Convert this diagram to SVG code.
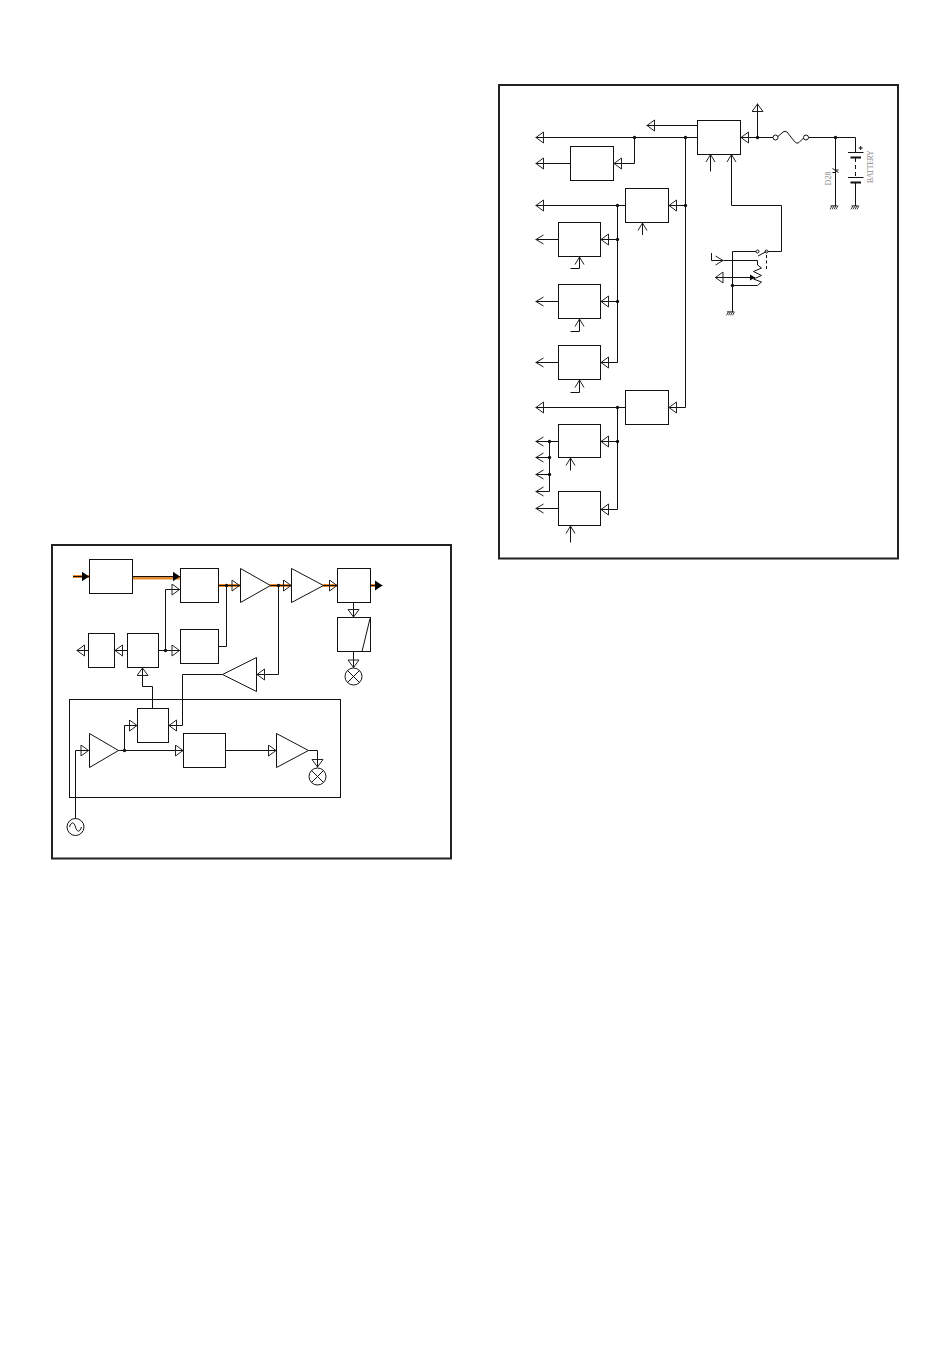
<svg xmlns="http://www.w3.org/2000/svg" width="950" height="1360" viewBox="0 0 950 1360">
<style>
.f{fill:none;stroke:#222;stroke-width:2}
.n{fill:#fff;stroke:#111;stroke-width:1}
.w{fill:none;stroke:#111;stroke-width:1}
.o{fill:none;stroke:#e8892b;stroke-width:3}
.t{marker-end:url(#tri)}
.v{marker-end:url(#vee)}
.b{marker-end:url(#sol)}
.s{marker-end:url(#sml)}
.d{fill:#111;stroke:none}
.h{fill:none;stroke:#111;stroke-width:2}
.l{font-family:"Liberation Serif",serif;font-size:8px;fill:#8a8a8a;text-anchor:middle}
</style>
<defs>
<marker id="tri" markerUnits="userSpaceOnUse" markerWidth="11" markerHeight="13" refX="9" refY="6" orient="auto"><path d="M1,0.5 L8.500,6 L1,11.500 Z" fill="none" stroke="#222" stroke-width="1"/></marker>
<marker id="vee" markerUnits="userSpaceOnUse" markerWidth="10" markerHeight="12" refX="8.500" refY="5.500" orient="auto"><path d="M0.500,1 L8,5.500 L0.500,10" fill="none" stroke="#222" stroke-width="1"/></marker>
<marker id="sol" markerUnits="userSpaceOnUse" markerWidth="9" markerHeight="12" refX="7.500" refY="5.500" orient="auto"><path d="M0,0.500 L7.500,5.500 L0,10.500 Z" fill="#000"/></marker>
<marker id="sml" markerUnits="userSpaceOnUse" markerWidth="7" markerHeight="8" refX="5" refY="3.500" orient="auto"><path d="M0,0.500 L5,3.500 L0,6.500 Z" fill="#000"/></marker>
<g id="gnd"><path d="M-3.500,0 H3.500 M-4,3.500 L-2,0 M-2,3.500 L0,0 M0,3.500 L2,0 M2,3.500 L4,0" fill="none" stroke="#222" stroke-width="0.9"/></g>
</defs>
<rect id="frame-left" class="f" x="52" y="545" width="399" height="313.500"/>
<rect id="frame-right" class="f" x="499" y="85" width="399" height="473.500"/>
<rect id="frame-inner" class="w" x="69.500" y="699.500" width="271" height="98"/>

<g id="connectors">
<path class="o" d="M73,576.500 H89"/>
<path class="o" d="M133,578 H180"/>
<path class="o" d="M219,585.500 H240"/>
<path class="o" d="M270,585.500 H291"/>
<path class="o" d="M323,585.500 H337"/>
<path class="o" d="M370,585.500 H381"/>
<path class="w b" d="M73,576.500 H89"/>
<path class="w b" d="M133,576.500 H180"/>
<path class="w t" d="M218.500,585.500 H240"/>
<path class="w t" d="M270,585.500 H291.500"/>
<path class="w t" d="M323,585.500 H337.500"/>
<path class="w b" d="M370.500,585.500 H382.500"/>
<path class="w t" d="M158.500,650.500 H180"/>
<path class="w t" d="M165.500,650.500 V589.500 H180"/>
<path class="w" d="M218.500,646.500 H226.500 V585.500"/>
<path class="w t" d="M127.500,650.500 H114.500"/>
<path class="w t" d="M88.500,650.500 H76.500"/>
<path class="w t" d="M152.500,708.500 V686.500 H142.500 V667.500"/>
<path class="w t" d="M278.500,585.500 V674.500 H256.500"/>
<path class="w t" d="M222.500,674.500 H182.500 V725.500 H168.500"/>
<path class="w t" d="M75.500,818.500 V750.500 H89"/>
<path class="w t" d="M118,750.500 H183.500"/>
<path class="w t" d="M124.500,750.500 V725.500 H137.500"/>
<path class="w t" d="M225.500,750.500 H276.500"/>
<path class="w t" d="M308.500,750.500 H317.500 V767.500"/>
<path class="w t" d="M353.500,602.500 V617.500"/>
<path class="w t" d="M353.500,651.500 V668"/>

<path class="w t" d="M697.500,125.500 H646.500"/>
<path class="w t" d="M697.500,137.500 H535.500"/>
<path class="w t" d="M634.500,137.500 V163.500 H613.500"/>
<path class="w t" d="M570.500,163.500 H535.500"/>
<path class="w t" d="M685.500,137.500 V407.500 H668.500"/>
<path class="w t" d="M685.500,205.500 H668.500"/>
<path class="w t" d="M625.500,205.500 H535.500"/>
<path class="w t" d="M617.500,205.500 V362.500 H600.500"/>
<path class="w t" d="M617.500,239.500 H600.500"/>
<path class="w t" d="M617.500,301.500 H600.500"/>
<path class="w v" d="M558.500,239.500 H535.500"/>
<path class="w v" d="M558.500,301.500 H535.500"/>
<path class="w v" d="M558.500,362.500 H535.500"/>
<path class="w v" d="M570.500,268.500 H579.500 V256.500"/>
<path class="w v" d="M570.500,331.500 H579.500 V318.500"/>
<path class="w v" d="M570.500,392.500 H579.500 V379.500"/>
<path class="w v" d="M642.500,235 V222.500"/>
<path class="w v" d="M710.500,171.500 V154"/>
<path class="w v" d="M766.500,251.500 H781.500 V205.500 H731.500 V154"/>
<path class="w t" d="M625.500,407.500 H535.500"/>
<path class="w t" d="M617.500,407.500 V509.500 H600.500"/>
<path class="w t" d="M617.500,441.500 H600.500"/>
<path class="w v" d="M558.500,441.500 H535.500"/>
<path class="w v" d="M549.500,441.500 V491.500 H535.500"/>
<path class="w v" d="M549.500,457.500 H535.500"/>
<path class="w v" d="M549.500,474.500 H535.500"/>
<path class="w v" d="M558.500,508.500 H535.500"/>
<path class="w v" d="M570.500,470.500 V457.500"/>
<path class="w v" d="M570.500,542.500 V525.500"/>
<path class="w t" d="M773,137.500 H740.500"/>
<path class="w t" d="M757.500,137.500 V103.500"/>
<path class="w" d="M808.500,137.500 H855.500 V152"/>
<path class="w" d="M835.500,137.500 V206"/>
<path class="w" d="M855.500,183 V206"/>
<path class="w" d="M732.500,251.500 V312"/>
<path class="w" d="M732.500,251.500 H756"/>
<path class="w v" d="M711.500,253 V260.500 H723.500"/>
<path class="w" d="M723.500,260.500 H757.500 V265"/>
<path class="w t" d="M732,277.500 H715"/>
<path class="w s" d="M732,277.500 H755"/>
<path class="w" d="M757.500,285.500 H732.500"/>
<g id="junctions">
<circle class="d" cx="165.500" cy="650.500" r="1.700"/><circle class="d" cx="226.500" cy="585.500" r="1.700"/><circle class="d" cx="278.500" cy="585.500" r="1.700"/><circle class="d" cx="124.500" cy="750.500" r="1.700"/>
<circle class="d" cx="634.500" cy="137.500" r="1.700"/><circle class="d" cx="685.500" cy="137.500" r="1.700"/><circle class="d" cx="685.500" cy="205.500" r="1.700"/><circle class="d" cx="617.500" cy="205.500" r="1.700"/><circle class="d" cx="617.500" cy="239.500" r="1.700"/><circle class="d" cx="617.500" cy="301.500" r="1.700"/><circle class="d" cx="617.500" cy="407.500" r="1.700"/><circle class="d" cx="617.500" cy="441.500" r="1.700"/><circle class="d" cx="549.500" cy="441.500" r="1.700"/><circle class="d" cx="549.500" cy="457.500" r="1.700"/><circle class="d" cx="549.500" cy="474.500" r="1.700"/><circle class="d" cx="757.500" cy="137.500" r="1.700"/><circle class="d" cx="835.500" cy="137.500" r="1.700"/><circle class="d" cx="732.500" cy="285.500" r="1.700"/>
</g>
</g>

<g id="box-a"><rect class="n" x="89.500" y="559.500" width="43" height="34"/></g>
<g id="box-b"><rect class="n" x="180.500" y="568.500" width="38" height="34"/></g>
<g id="box-c"><rect class="n" x="180.500" y="629.500" width="38" height="34"/></g>
<g id="box-d"><rect class="n" x="127.500" y="633.500" width="31" height="34"/></g>
<g id="box-e"><rect class="n" x="88.500" y="633.500" width="26" height="34"/></g>
<g id="amp-1"><path class="n" d="M240.500,568.500 L270.500,585.500 L240.500,602.500 Z"/></g>
<g id="amp-2"><path class="n" d="M291.500,568.500 L323.500,585.500 L291.500,602.500 Z"/></g>
<g id="box-f"><rect class="n" x="337.500" y="568.500" width="33" height="34"/></g>
<g id="box-g"><rect class="n" x="337.500" y="617.500" width="33" height="34"/><path class="w" d="M370,618.500 L362,651.500"/></g>
<g id="mixer-1"><circle class="n" cx="353.500" cy="676.500" r="8.500"/><path class="w" d="M347.500,670.500 L359.500,682.500 M359.500,670.500 L347.500,682.500"/></g>
<g id="amp-3"><path class="n" d="M256.500,657.500 L222.500,674.500 L256.500,691.500 Z"/></g>
<g id="box-h"><rect class="n" x="137.500" y="708.500" width="31" height="34"/></g>
<g id="box-i"><rect class="n" x="183.500" y="733.500" width="42" height="34"/></g>
<g id="amp-4"><path class="n" d="M89.500,733.500 L118.500,750.500 L89.500,767.500 Z"/></g>
<g id="amp-5"><path class="n" d="M276.500,733.500 L308.500,750.500 L276.500,767.500 Z"/></g>
<g id="mixer-2"><circle class="n" cx="317.500" cy="776.500" r="8.500"/><path class="w" d="M311.500,770.500 L323.500,782.500 M323.500,770.500 L311.500,782.500"/></g>
<g id="source"><circle class="n" cx="75.500" cy="827" r="8.500"/><path class="w" d="M69.500,827 C71.500,821 74,822 75.500,827 C77,832 79.500,833 81.500,827"/></g>

<g id="box-m"><rect class="n" x="697.500" y="120.500" width="43" height="34"/></g>
<g id="box-n"><rect class="n" x="570.500" y="146.500" width="43" height="34"/></g>
<g id="box-o"><rect class="n" x="625.500" y="188.500" width="43" height="34"/></g>
<g id="box-p"><rect class="n" x="558.500" y="222.500" width="42" height="34"/></g>
<g id="box-q"><rect class="n" x="558.500" y="284.500" width="42" height="34"/></g>
<g id="box-r"><rect class="n" x="558.500" y="345.500" width="42" height="34"/></g>
<g id="box-s"><rect class="n" x="625.500" y="390.500" width="43" height="34"/></g>
<g id="box-t"><rect class="n" x="558.500" y="424.500" width="42" height="33"/></g>
<g id="box-u"><rect class="n" x="558.500" y="491.500" width="42" height="34"/></g>

<g id="fuse">
<circle class="n" cx="775.500" cy="137.500" r="2.500"/><circle class="n" cx="806" cy="137.500" r="2.500"/>
<path class="w" d="M778,136.500 L783,132 Q785,130.500 787,132 L794.500,141.500 Q797,144.500 799,142.500 L803.500,138"/>
</g>
<g id="d28">
<path class="w" d="M832.500,172.500 H835.500 L835.500,170 H838.500 M832.500,168.500 L838.500,172.500"/>
<text class="l" transform="translate(830.500,178.500) rotate(-90)" textLength="14">D28</text>
</g>
<g id="battery">
<path class="w" d="M848,152.500 H863.500 M848,177.500 H863.500"/>
<path class="h" d="M850.500,157.500 H861 M850.500,182.500 H861"/>
<path class="w" d="M855.500,158 V177" stroke-dasharray="4 3"/>
<path class="w" d="M858.700,148 H862.700 M860.700,146 V150"/>
<text class="l" transform="translate(872.500,166.700) rotate(-90)" textLength="33">BATTERY</text>
</g>
<g id="grounds">
<use href="#gnd" x="834" y="205.800"/>
<use href="#gnd" x="855" y="205.800"/>
<use href="#gnd" x="730.500" y="311.800"/>
</g>
<g id="switch-pot">
<circle class="n" cx="757.500" cy="251.500" r="1.500"/><circle class="n" cx="766.500" cy="251.500" r="1.500"/>
<path class="w" d="M758,256 L766.500,251.500"/>
<path class="w" d="M766.500,255 V271" stroke-dasharray="3 2.500"/>
<path class="w" d="M757.500,265 L761.500,268 L753.500,271.500 L761.500,275.500 L753.500,279 L761.500,282 L757.500,285.500"/>
</g>
</svg>
